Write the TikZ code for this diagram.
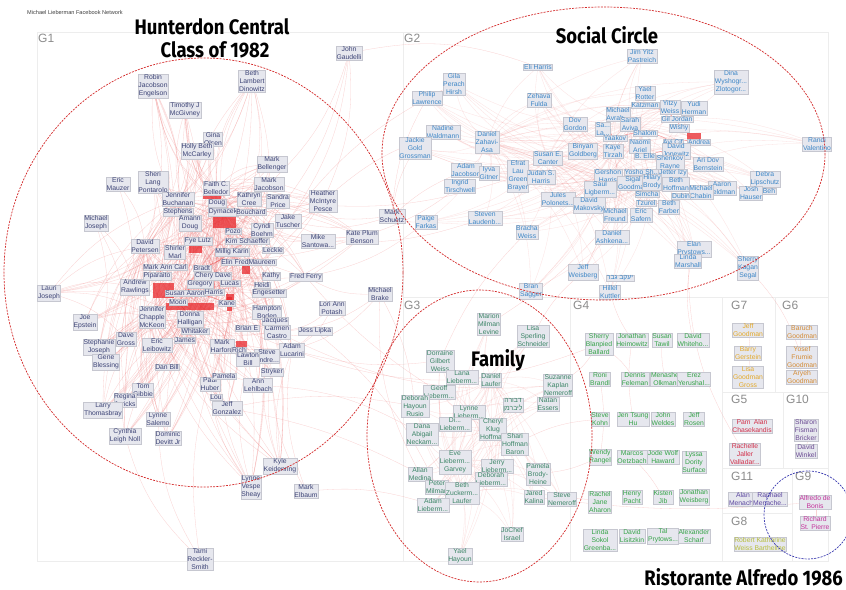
\documentclass[tikz,border=0pt]{standalone}
\usepackage{fontspec}
\setmainfont{Liberation Sans}
\newfontfamily\nodefam{Liberation Sans}
\newfontfamily\hebfam[Script=Hebrew]{Liberation Sans}
\newfontfamily\titlefam[FakeStretch=0.88]{Fira Sans}
\TeXXeTstate=1
\definecolor{boxfill}{HTML}{E6E7EE}
\definecolor{boxline}{HTML}{C6C7D0}
\definecolor{cgone}{HTML}{3D4476}
\definecolor{cgtwo}{HTML}{3D86C6}
\definecolor{cgthree}{HTML}{3C8567}
\definecolor{cgfour}{HTML}{35A348}
\definecolor{cgfive}{HTML}{D2304A}
\definecolor{cgsix}{HTML}{D38B35}
\definecolor{cgseven}{HTML}{E3A92A}
\definecolor{cgeight}{HTML}{B7BE3C}
\definecolor{cgnine}{HTML}{C4339B}
\definecolor{cgten}{HTML}{6B4B93}
\definecolor{cgeleven}{HTML}{5C47A0}
\definecolor{edgecol}{HTML}{EE6A6A}
\definecolor{blobcol}{HTML}{E8262A}
\definecolor{ringred}{HTML}{D42A2A}
\definecolor{ringblue}{HTML}{3A3AB0}
\definecolor{panelcol}{HTML}{EDEDED}
\definecolor{labgray}{HTML}{8C8C8C}
\pgfdeclarelayer{back}
\pgfdeclarelayer{edges}
\pgfsetlayers{back,edges,main}
\newcommand\linkset[4][edge]{\foreach \s in {#2}{\foreach \t in {#3}{\draw[#1] (\s) to[bend left=#4] (\t);}}}
\tikzset{
  nd/.style={fill=boxfill,draw=boxline,line width=0.25pt,inner sep=0.6pt,align=center,
    font=\nodefam\fontsize{6.8}{8}\selectfont},
  g1/.style={nd,text=cgone},
  g2/.style={nd,text=cgtwo},
  g3/.style={nd,text=cgthree},
  g4/.style={nd,text=cgfour},
  g5/.style={nd,text=cgfive},
  g6/.style={nd,text=cgsix},
  g7/.style={nd,text=cgseven},
  g8/.style={nd,text=cgeight},
  g9/.style={nd,text=cgnine},
  g10/.style={nd,text=cgten},
  g11/.style={nd,text=cgeleven},
  heb/.style={font=\hebfam\fontsize{6.8}{8}\selectfont},
  edge/.style={draw=edgecol,line width=0.3pt,opacity=0.3},
  faint/.style={draw=edgecol,line width=0.3pt,opacity=0.2},
  strong/.style={draw=blobcol,line width=0.4pt,opacity=0.55},
  blob/.style={fill=blobcol,opacity=0.75},
  ring/.style={draw=ringred,dash pattern=on 2pt off 1.2pt,line width=0.7pt},
  bluering/.style={draw=ringblue,dash pattern=on 2pt off 1.2pt,line width=0.7pt},
  panel/.style={draw=panelcol,line width=0.8pt},
  glab/.style={text=labgray,font=\nodefam\fontsize{12}{12}\selectfont,anchor=north west,inner sep=0pt},
  title/.style={font=\titlefam\bfseries\fontsize{21}{22.5}\selectfont,align=center,inner sep=0pt}
}
\begin{document}
\begin{tikzpicture}[x=1pt,y=-1pt]
\useasboundingbox (0,0) rectangle (846,589);
\begin{pgfonlayer}{back}
\fill[white] (0,0) rectangle (846,589);
% group panels
\draw[panel] (37,32) rectangle (403,561);
\draw[panel] (403,32) rectangle (828,297);
\draw[panel] (403,297) rectangle (570,561);
\draw[panel] (570,297) rectangle (722,561);
\draw[panel] (722,297) rectangle (775,392);
\draw[panel] (775,297) rectangle (828,392);
\draw[panel] (722,392) rectangle (783,468);
\draw[panel] (783,392) rectangle (828,468);
\draw[panel] (722,468) rectangle (792,513);
\draw[panel] (792,468) rectangle (828,561);
\draw[panel] (722,513) rectangle (792,561);
\end{pgfonlayer}
\node[anchor=west,inner sep=0pt,text=black!75,font=\nodefam\fontsize{5.6}{6}\selectfont] (hdr) at (27,12) {Michael Lieberman Facebook Network};
\node[glab] (lg1) at (38,34) {G1};
\node[glab] (lg2) at (404,34) {G2};
\node[glab] (lg3) at (404,301) {G3};
\node[glab] (lg4) at (573,301) {G4};
\node[glab] (lg7) at (731,301) {G7};
\node[glab] (lg6) at (782,301) {G6};
\node[glab] (lg5) at (731,395) {G5};
\node[glab] (lg10) at (786,395) {G10};
\node[glab] (lg11) at (731,472) {G11};
\node[glab] (lg9) at (795,472) {G9};
\node[glab] (lg8) at (731,517) {G8};

% ---------- G1 ----------
\node[g1] (a1) at (349,53) {John\\Gaudelli};
\node[g1] (a2) at (153,86) {Robin\\Jacobson\\Engelson};
\node[g1] (a3) at (252,81) {Beth\\Lambert\\Dinowitz};
\node[g1] (a4) at (185,110) {Timothy J\\McGivney};
\node[g1] (a5) at (213,139) {Gina\\Olsen};
\node[g1] (a6) at (197,151) {Holly Beth\\McCarley};
\node[g1] (a7) at (272,164) {Mark\\Bellenger};
\node[g1] (a8) at (118,184) {Eric\\Mauzer};
\node[g1] (a9) at (153,182) {Sheri\\Lang\\Pontarolo};
\node[g1] (a10) at (216,188) {Faith C.\\Belledor};
\node[g1] (a11) at (269,184) {Mark\\Jacobson};
\node[g1] (a12) at (178,199) {Jennifer\\Buchanan};
\node[g1] (a13) at (249,199) {Kathryn\\Cree};
\node[g1] (a14) at (278,201) {Sandra\\Price};
\node[g1] (a15) at (217,203) {Doug};
\node[g1] (a16) at (323,201) {Heather\\McIntyre\\Pesce};
\node[g1] (a17) at (178,212) {Stephens};
\node[g1] (a18) at (223,212) {Dymacek};
\node[g1] (a19) at (251,212) {Bouchard};
\node[g1] (a20) at (392,216) {Mark\\Schuetz};
\node[g1] (a21) at (288,221) {Jake\\Tuscher};
\node[g1] (a22) at (190,223) {Amann\\Doug};
\node[g1] (a23) at (96,223) {Michael\\Joseph};
\node[g1] (a24) at (362,237) {Kate Plum\\Benson};
\node[g1] (a25) at (318,241) {Mike\\Santowa...};
\node[g1] (a26) at (262,230) {Cyndi\\Boehm};
\node[g1] (a27) at (145,246) {David\\Petersen};
\node[g1] (a28) at (273,250) {Leckie};
\node[g1] (a29) at (306,277) {Fred Ferry};
\node[g1] (a30) at (49,293) {Lauri\\Joseph};
\node[g1] (a31) at (380,294) {Michael\\Brake};
\node[g1] (a32) at (135,287) {Andrew\\Rawlings};
\node[g1] (a33) at (332,308) {Lori Ann\\Potash};
\node[g1] (a34) at (85,322) {Joe\\Epstein};
\node[g1] (a35) at (315,331) {Jess Lipka};
\node[g1] (a36) at (152,317) {Jennifer\\Chapple\\McKeon};
\node[g1] (a37) at (126,339) {Dave\\Gross};
\node[g1] (a38) at (99,347) {Stephanie\\Joseph};
\node[g1] (a39) at (106,362) {Gene\\Blessing};
\node[g1] (a40) at (157,345) {Eric\\Leibowitz};
\node[g1] (a41) at (167,367) {Dan Bill};
\node[g1] (a42) at (190,319) {Donna\\Halligan};
\node[g1] (a43) at (185,340) {James};
\node[g1] (a44) at (222,346) {Mark\\Harford};
\node[g1] (a45) at (239,350) {Rich};
\node[g1] (a46) at (292,350) {Adam\\Lucarini};
\node[g1] (a47) at (267,356) {Steve\\Andre...};
\node[g1] (a48) at (277,332) {Carmen\\Castro};
\node[g1] (a49) at (247,328) {Brian E};
\node[g1] (a50) at (267,312) {Hampton\\Boden};
\node[g1] (a51) at (275,321) {Jacques};
\node[g1] (a52) at (248,359) {Lawton\\Bill};
\node[g1] (a53) at (272,372) {Stryker};
\node[g1] (a54) at (258,385) {Ann\\Lehlbach};
\node[g1] (a55) at (210,384) {Paul\\Huber};
\node[g1] (a56) at (224,376) {Pamela};
\node[g1] (a57) at (216,397) {Lou};
\node[g1] (a58) at (227,408) {Jeff\\Gonzalez};
\node[g1] (a59) at (143,390) {Tom\\Gibbie};
\node[g1] (a60) at (125,400) {Regina\\Jericks};
\node[g1] (a61) at (103,410) {Larry\\Thomasbray};
\node[g1] (a62) at (158,419) {Lynne\\Salemo};
\node[g1] (a63) at (125,436) {Cynthia\\Leigh Noll};
\node[g1] (a64) at (168,438) {Dominic\\Devitt Jr};
\node[g1] (a65) at (280,466) {Kyle\\Keidenring};
\node[g1] (a66) at (251,487) {Lynne\\Vespe\\Sheay};
\node[g1] (a67) at (306,491) {Mark\\Elbaum};
\node[g1] (a68) at (200,559) {Tami\\Reckler-\\Smith};
\node[g1] (x1) at (175,252) {Shirler\\Marl};
\node[g1] (x2) at (232,252) {Millig Karin};
\node[g1] (x3) at (165,267) {Mark Ann Carl};
\node[g1] (x4) at (202,268) {Bradt};
\node[g1] (x5) at (235,262) {Elin Fred};
\node[g1] (x6) at (262,262) {Maureen};
\node[g1] (x7) at (157,276) {Piparaito};
\node[g1] (x8) at (213,276) {Chery Dave};
\node[g1] (x9) at (271,276) {Kathy};
\node[g1] (x10) at (262,285) {Heidi};
\node[g1] (x11) at (200,284) {Gregory};
\node[g1] (x12) at (185,293) {Susan Aaron};
\node[g1] (x13) at (269,293) {Engesetter};
\node[g1] (x14) at (178,302) {Moon};
\node[g1] (x15) at (227,303) {Kane};
\node[g1] (x16) at (247,241) {Kim Schaeffer};
\node[g1] (x17) at (233,231) {Pozo};
\node[g1] (x18) at (198,241) {Fye Lutz};
\node[g1] (x19) at (230,283) {Lucas};
\node[g1] (x20) at (195,331) {Whitaker};
\node[g1] (x22) at (214,292) {Harris};

% ---------- G2 ----------
\node[g2] (b1) at (642,56) {Jim Yitz\\Pastreich};
\node[g2] (b2) at (538,67) {Eli Harris};
\node[g2] (b3) at (454,84) {Gila\\Perach\\Hirsh};
\node[g2] (b4) at (427,98) {Philip\\Lawrence};
\node[g2] (b5) at (539,100) {Zehava\\Fulda};
\node[g2] (b6) at (731,82) {Dina\\Wyshogr...\\Zlotogor...};
\node[g2] (b7) at (645,93) {Yael\\Rotter};
\node[g2] (b11) at (645,105) {Katzman};
\node[g2] (b8) at (670,107) {Yitzy\\Weiss};
\node[g2] (b9) at (694,108) {Yudi\\Herman};
\node[g2] (b10) at (618,114) {Michael\\Avrah...};
\node[g2] (b12) at (677,119) {Gil Jordan};
\node[g2] (b13) at (575,124) {Dov\\Gordon};
\node[g2] (b14) at (630,124) {Sarah\\Aviva};
\node[g2] (b15) at (679,128) {Wishy};
\node[g2] (b16) at (603,129) {Sa...\\La...};
\node[g2] (b17) at (443,132) {Nadine\\Waldmann};
\node[g2] (b18) at (487,142) {Daniel\\Zahavi-\\Asa};
\node[g2] (b19) at (415,148) {Jackie\\Gold\\Grossman};
\node[g2] (b20) at (615,138) {Yaakov};
\node[g2] (b21) at (645,133) {Shalom};
\node[g2] (b22) at (673,142) {Avi Cif};
\node[g2] (b23) at (699,142) {Andrea};
\node[g2] (b24) at (583,151) {Binyan\\Goldberg};
\node[g2] (b25) at (613,151) {Kaye\\Tirzah};
\node[g2] (b26) at (640,146) {Naomi\\Ariel};
\node[g2] (b27) at (645,156) {B. Elle};
\node[g2] (b28) at (676,151) {David\\Jopewitz};
\node[g2] (b29) at (548,158) {Susan E.\\Canter};
\node[g2] (b30) at (670,163) {Shenkov\\Rayne};
\node[g2] (b31) at (708,164) {Ari Dov\\Bernstein};
\node[g2] (b32) at (518,176) {Efrat\\Lau\\Green\\Brayer};
\node[g2] (b33) at (541,177) {Judah S.\\Harris};
\node[g2] (b34) at (466,170) {Adam\\Jacobson};
\node[g2] (b35) at (460,186) {Ingrid\\Tirschwell};
\node[g2] (b36) at (489,173) {Iyva\\Gitner};
\node[g2] (b37) at (608,176) {Gershon\\Harris};
\node[g2] (b38) at (642,172) {Yosho Sh...};
\node[g2] (b39) at (673,173) {Jetter Izy};
\node[g2] (b40) at (765,179) {Debra\\Lipschutz};
\node[g2] (b67) at (769,191) {Beh};
\node[g2] (b41) at (751,193) {Josh\\Hauser};
\node[g2] (b42) at (633,183) {Sigal\\Goodman};
\node[g2] (b43) at (652,182) {Hilary\\Brody};
\node[g2] (b44) at (676,184) {Beth\\Hoffman};
\node[g2] (b46) at (722,188) {Aaron\\Feldman};
\node[g2] (b45) at (701,192) {Michael\\Chabin};
\node[g2] (b68) at (681,196) {Dubin};
\node[g2] (b47) at (600,189) {Saul\\Ligberm...};
\node[g2] (b48) at (558,199) {Jules\\Polonets...};
\node[g2] (b49) at (589,205) {David\\Makovsky};
\node[g2] (b50) at (647,194) {Simcha};
\node[g2] (b51) at (646,203) {Tzurel};
\node[g2] (b52) at (669,207) {Beth\\Farber};
\node[g2] (b53) at (615,215) {Michael\\Freund};
\node[g2] (b54) at (641,215) {Eric\\Safern};
\node[g2] (b55) at (485,218) {Steven\\Laudenb...};
\node[g2] (b56) at (426,222) {Paige\\Farkas};
\node[g2] (b57) at (527,232) {Bracha\\Weiss};
\node[g2] (b58) at (612,237) {Daniel\\Ashkena...};
\node[g2] (b59) at (694,249) {Elan\\Prystows...};
\node[g2] (b60) at (688,261) {Linda\\Marshall};
\node[g2] (b61) at (748,268) {Sherry\\Kagan\\Segal};
\node[g2] (b62) at (817,144) {Randi\\Valentino};
\node[g2] (b63) at (583,272) {Jeff\\Weisberg};
\node[g2,heb] (b64) at (620,278) {\beginR יעקב גבר\endR};
\node[g2] (b65) at (610,292) {Hillel\\Kuttler};
\node[g2] (b66) at (531,291) {Bran\\Sagger};

% ---------- G3 ----------
\node[g3] (c1) at (489,324) {Marion\\Milman\\Levine};
\node[g3] (c2) at (533,336) {Lisa\\Sperling\\Schneider};
\node[g3] (c3) at (440,361) {Dorraine\\Gilbert\\Weiss};
\node[g3] (c4) at (462,377) {Lana\\Lieberm...};
\node[g3] (c5) at (491,380) {Daniel\\Laufer};
\node[g3] (c6) at (439,392) {Geoff\\Lieberm...};
\node[g3] (c7) at (558,385) {Suzanne\\Kaplan\\Nemeroff};
\node[g3] (c8) at (415,406) {Deborah\\Hayoun\\Rusio};
\node[g3,heb] (c9) at (513,405) {\beginR דבורה\endR\\\beginR ליברמן\endR};
\node[g3] (c10) at (548,404) {Natan\\Essers};
\node[g3] (c11) at (469,412) {Lynne\\Lieberm...};
\node[g3] (c13) at (455,424) {Di...\\Lieberm...};
\node[g3] (c12) at (422,434) {Dana\\Abigail\\Neckam...};
\node[g3] (c14) at (493,429) {Cheryl\\Klug\\Hoffman};
\node[g3] (c15) at (515,444) {Shari\\Hoffman\\Baron};
\node[g3] (c16) at (455,462) {Eve\\Lieberm...\\Garvey};
\node[g3] (c17) at (497,466) {Jerry\\Lieberm...};
\node[g3] (c18) at (538,474) {Pamela\\Brody-\\Heine};
\node[g3] (c19) at (491,479) {Deborah\\Lieberm...};
\node[g3] (c20) at (420,474) {Allan\\Medina};
\node[g3] (c21) at (437,487) {Peter\\Milman};
\node[g3] (c22) at (462,493) {Beth\\Zuckerm...\\Laufer};
\node[g3] (c23) at (433,505) {Adam\\Lieberm...};
\node[g3] (c24) at (534,497) {Jared\\Kalina};
\node[g3] (c25) at (562,499) {Steve\\Nemeroff};
\node[g3] (c26) at (512,534) {JoChef\\Israel};
\node[g3] (c27) at (460,556) {Yael\\Hayoun};

% ---------- G4 ----------
\node[g4] (d1) at (599,344) {Sherry\\Blanpied\\Ballard};
\node[g4] (d2) at (632,340) {Jonathan\\Heimowitz};
\node[g4] (d3) at (662,340) {Susan\\Tawil};
\node[g4] (d4) at (693,340) {David\\Whiteho...};
\node[g4] (d5) at (600,379) {Roni\\Brandl};
\node[g4] (d6) at (635,379) {Dennis\\Feleman};
\node[g4] (d7) at (665,379) {Menashe\\Olkman};
\node[g4] (d8) at (694,379) {Erez\\Yerushal...};
\node[g4] (d9) at (600,419) {Steve\\Kohn};
\node[g4] (d10) at (633,419) {Jen Tsung\\Hu};
\node[g4] (d11) at (663,419) {John\\Weldes};
\node[g4] (d12) at (694,419) {Jeff\\Rosen};
\node[g4] (d13) at (600,457) {Wendy\\Rangel};
\node[g4] (d14) at (632,457) {Marcos\\Oetzbach};
\node[g4] (d15) at (663,457) {Jode Wolf\\Haward};
\node[g4] (d16) at (694,462) {Lyssa\\Dority\\Surface};
\node[g4] (d17) at (600,502) {Rachel\\Jane\\Aharon};
\node[g4] (d18) at (632,497) {Henry\\Pacht};
\node[g4] (d19) at (663,497) {Kisten\\Jib};
\node[g4] (d20) at (694,497) {Jonathan\\Weisberg};
\node[g4] (d21) at (600,540) {Linda\\Sokol\\Greenba...};
\node[g4] (d22) at (632,536) {David\\Lisitzkin};
\node[g4] (d23) at (663,536) {Tal\\Prytows...};
\node[g4] (d24) at (694,536) {Alexander\\Scharf};

% ---------- small groups ----------
\node[g7] (e1) at (748,330) {Jeff\\Goodman};
\node[g7] (e2) at (748,353) {Barry\\Gerstein};
\node[g7] (e3) at (748,377) {Lisa\\Goodman\\Gross};
\node[g6] (e4) at (802,332) {Baruch\\Goodman};
\node[g6] (e5) at (802,357) {Yosef\\Frumie\\Goodman};
\node[g6] (e6) at (802,377) {Aryeh\\Goodman};
\node[g5] (e7) at (752,426) {Pam\enspace Alan\\Chasekandis};
\node[g5] (e8) at (745,454) {Rachelle\\Jaller\\Valladar...};
\node[g10] (e9) at (806,430) {Sharon\\Fisman\\Bricker};
\node[g10] (e10) at (806,451) {David\\Winkel};
\node[g11] (e11) at (743,499) {Alan\\Menache};
\node[g11] (e12) at (770,499) {Raphael\\Menache...};
\node[g9] (e13) at (815,502) {Alfredo de\\Bonis};
\node[g9] (e14) at (815,523) {Richard\\St. Pierre};
\node[g8] (e15) at (760,544) {Robert Katharine\\Weiss Barthelme};

% ---------- connections ----------
\begin{pgfonlayer}{edges}
% dense clusters of friendship lines
\linkset{a10,a15,a18,a22}{a2,a3,a4,a5,a6,a7,a9,a11,a13,a14,a16,a21,a24,a26,a28,a29,a30,a32,a34,a37,a38,a39,a40,a41,a43,a44,a46,a48,a50,a54,a55,a58,a59,a60,a61,a62,a63,a64,a65,a66}{18}
\linkset{a12,a27,a36,a42}{a2,a3,a4,a5,a6,a7,a9,a11,a13,a14,a16,a21,a24,a26,a28,a29,a30,a32,a34,a37,a38,a39,a40,a41,a43,a44,a46,a48,a50,a54,a55,a58,a59,a60,a61,a62,a63,a64,a65,a66}{-14}
\linkset{x2,x8,x12,x14}{x1,x3,x4,x5,x6,x7,x9,x10,x11,x13,x15,x16,x17,x18,x19,x20,x22,a19,a26,a45,a49,a51,a52,a53,a56,a57}{8}
\foreach \s/\t in {a1/a21,a1/a16,a1/a26,a1/a11,a2/a17,a2/a40,a3/a13,a3/a26,a3/a19,a4/a17,a8/a27,a8/a37,a23/a32,a23/a37,a23/a38,a30/a32,a30/a37,a68/a62,a68/a63,a68/a44,a66/a55,a66/a44,a66/a52,a65/a53,a65/a46,a65/a47,a67/a53,a67/a46,a31/a29,a31/a46,a31/a48,a33/a48,a33/a46,a24/a21,a24/a26,a16/a13,a16/a21,a20/a21,a20/a14,a25/a26,a25/a19,a35/a47,a35/a48}{\draw[edge] (\s) to[bend left=14] (\t);}
\foreach \s/\t in {x2/x4,x4/x14,x12/x15,x8/x22,x1/x18,x17/x16,a18/a19,x14/a42,x15/x19,a45/a52,a44/a45,x7/x3}{\draw[strong] (\s) to[bend left=6] (\t);}
% links reaching other groups
\foreach \s/\t/\b in {a20/b19/10,a20/b56/-10,a20/b34/8,a20/b4/12,a16/b17/10,a24/b35/-8,a21/b3/12,a1/b2/15,a29/b56/-12,a31/c8/10,a31/c20/-15,a54/c12/12,a58/c8/10,a58/c20/8,a46/c3/-10,a46/d1/-20,a35/c21/12,a29/c6/-8,a67/c23/10,a48/c7/-15,a14/b32/-12,a25/b55/-10}{\draw[edge] (\s) to[bend left=\b] (\t);}
\linkset[faint]{b14,b25,b37,b29,b43,b18}{b1,b2,b3,b4,b5,b6,b7,b8,b9,b13,b17,b19,b23,b31,b32,b34,b36,b40,b41,b46,b48,b49,b53,b54,b55,b56,b57,b58,b59,b60,b61,b62,b63,b65,b66}{14}
\foreach \s/\t in {b20/b21,b21/b22,b22/b23,b10/b11,b11/b12,b12/b15,b16/b20,b26/b27,b27/b28,b38/b39,b42/b47,b50/b51,b51/b52,b44/b45,b45/b68,b30/b39}{\draw[strong] (\s) to[bend left=8] (\t);}
\linkset[faint]{c14,c11,c16,c5,c22}{c1,c2,c3,c4,c6,c7,c8,c9,c10,c12,c13,c15,c17,c18,c19,c20,c21,c23,c24,c25,c26,c27}{12}
\foreach \s/\t/\b in {c7/d1/-10,c15/d9/10,c18/d13/-8,c24/e13/-6,c25/d17/6,b60/e8/-15,b61/e5/10,b63/c2/-10,b65/d2/-8,d1/d6/8,d2/d10/-8,d5/d13/8,d14/d19/6,d3/d7/-6,e1/e2/10,e2/e3/10,e4/e5/-8,e5/e6/-8,e11/e12/10,e13/e14/10,e9/e10/8,b59/d4/-12,b53/c1/8,b57/c3/-10}{\draw[edge] (\s) to[bend left=\b] (\t);}
% heavy overlap of lines in the core
\fill[blob] (213,216) rectangle (236,228);
\fill[blob] (189,246) rectangle (202,253);
\fill[blob] (242,265) rectangle (250,274);
\fill[blob] (153,283) rectangle (174,298);
\fill[blob] (166,303) rectangle (214,310);
\fill[blob] (226,294) rectangle (234,300);
\fill[blob] (236,341) rectangle (247,348);
\fill[blob] (158,338) rectangle (165,344);
\fill[blob] (203,194) rectangle (221,199);
\fill[blob] (227,297) rectangle (232,311);
\fill[blob] (687,133) rectangle (701,139);
\end{pgfonlayer}

% annotations
\draw[ring] (203.5,272.5) ellipse [x radius=199.5, y radius=214.5];
\draw[ring] (603.5,153.5) ellipse [x radius=221.5, y radius=146.5];
\draw[ring] (479.5,436) ellipse [x radius=112.5, y radius=146];
\draw[bluering] (808,515) circle [radius=44];
\node[title,anchor=base] (t1) at (212,57) {Hunterdon Central\\\hspace*{6pt}Class of 1982};
\node[title,anchor=base] (t2) at (607,43) {Social Circle};
\node[title] (t3) at (498,360) {Family};
\node[title,anchor=base east] (t4) at (843,585) {Ristorante Alfredo 1986};
\end{tikzpicture}
\end{document}
